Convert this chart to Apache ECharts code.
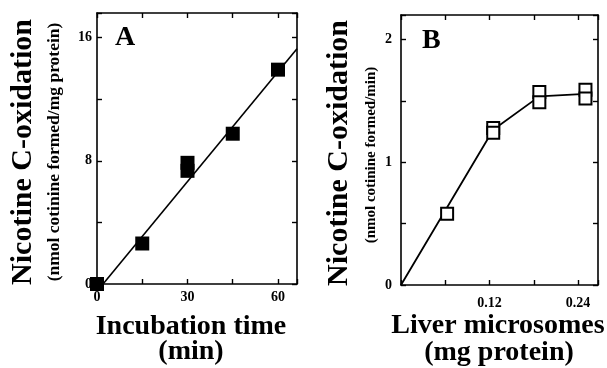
<!DOCTYPE html>
<html>
<head>
<meta charset="utf-8">
<script src="https://cdn.jsdelivr.net/npm/echarts@6/dist/echarts.min.js"></script>
<style>
  html, body { margin: 0; padding: 0; background: #fff; }
  #chart { width: 607px; height: 368px; }
</style>
</head>
<body>
<div id="chart"></div>
<script>
// panel A: incubation time (min) vs nicotine C-oxidation
var timeMin = [0, 15, 30, 30, 45, 60];
var oxidationA = [0, 2.63, 7.87, 7.35, 9.76, 13.92];
var fitTime = [2, 66.3];
var fitA = [0, 15.28];
var labelsAX = [0, 30, 60];
var labelsAY = [0, 8, 16];

// panel B: liver microsomes (mg protein) vs rate
var proteinMg = [0.0625, 0.125, 0.125, 0.1875, 0.1875, 0.25, 0.25];
var oxidationB = [0.58, 1.28, 1.24, 1.573, 1.49, 1.59, 1.52];
var curveProtein = [0, 0.125, 0.1875, 0.25];
var curveB = [0, 1.265, 1.537, 1.557];
var labelsBX = [0.12, 0.24];
var labelsBY = [0, 1, 2];

var FONT = "'Liberation Serif', 'Times New Roman', serif";

function pairs(xs, ys) {
  var out = [];
  for (var i = 0; i < xs.length; i++) out.push([xs[i], ys[i]]);
  return out;
}
function pick(list) {
  return function (v) {
    for (var i = 0; i < list.length; i++) {
      if (Math.abs(v - list[i]) < 1e-6) return String(list[i]);
    }
    return '';
  };
}
function axis(opts) {
  var a = {
    type: 'value',
    gridIndex: opts.grid,
    position: opts.position,
    min: opts.min,
    max: opts.max,
    interval: opts.interval,
    splitLine: { show: false },
    axisLine: { show: true, onZero: false, lineStyle: { color: '#000', width: 1.6 } },
    axisTick: { show: true, inside: true, length: 5, lineStyle: { color: '#000', width: 1.4 } },
    axisLabel: { show: false }
  };
  if (opts.labels) {
    a.axisLabel = {
      show: true,
      margin: opts.margin,
      color: '#000',
      fontFamily: FONT,
      fontWeight: 'bold',
      fontSize: 14,
      showMinLabel: true,
      showMaxLabel: true,
      formatter: pick(opts.labels)
    };
  }
  return a;
}

var chart = echarts.init(document.getElementById('chart'));

var option = {
  animation: false,
  backgroundColor: '#fff',
  grid: [
    { left: 97, right: 310, top: 13, bottom: 84 },
    { left: 401, right: 9, top: 15, bottom: 83 }
  ],
  xAxis: [
    axis({ grid: 0, position: 'bottom', min: 0, max: 66.3, interval: 15, labels: labelsAX, margin: 6 }),
    axis({ grid: 0, position: 'top', min: 0, max: 66.3, interval: 15 }),
    axis({ grid: 1, position: 'bottom', min: 0, max: 0.267, interval: 0.06, labels: labelsBX, margin: 11 }),
    axis({ grid: 1, position: 'top', min: 0, max: 0.267, interval: 0.06 })
  ],
  yAxis: [
    axis({ grid: 0, position: 'left', min: 0, max: 17.6, interval: 4, labels: labelsAY, margin: 5 }),
    axis({ grid: 0, position: 'right', min: 0, max: 17.6, interval: 4 }),
    axis({ grid: 1, position: 'left', min: 0, max: 2.2, interval: 0.5, labels: labelsBY, margin: 9 }),
    axis({ grid: 1, position: 'right', min: 0, max: 2.2, interval: 0.5 })
  ],
  series: [
    {
      type: 'line', xAxisIndex: 0, yAxisIndex: 0,
      data: pairs(fitTime, fitA), showSymbol: false, z: 2,
      lineStyle: { color: '#000', width: 1.6 }
    },
    {
      type: 'scatter', xAxisIndex: 0, yAxisIndex: 0,
      data: pairs(timeMin, oxidationA), symbol: 'rect', symbolSize: 14, z: 3,
      itemStyle: { color: '#000', opacity: 1 }
    },
    {
      type: 'line', xAxisIndex: 2, yAxisIndex: 2,
      data: pairs(curveProtein, curveB), showSymbol: false, z: 2,
      lineStyle: { color: '#000', width: 1.8 }
    },
    {
      type: 'scatter', xAxisIndex: 2, yAxisIndex: 2,
      data: pairs(proteinMg, oxidationB), symbol: 'rect', symbolSize: 12, z: 3,
      itemStyle: { color: '#fff', borderColor: '#000', borderWidth: 2, opacity: 1 }
    }
  ],
  graphic: [
    { type: 'text', x: 23, y: 152, rotation: Math.PI / 2,
      style: { text: 'Nicotine C-oxidation', font: 'bold 30px ' + FONT, fill: '#000', align: 'center', verticalAlign: 'middle' } },
    { type: 'text', x: 54, y: 152, rotation: Math.PI / 2,
      style: { text: '(nmol cotinine formed/mg protein)', font: 'bold 17.5px ' + FONT, fill: '#000', align: 'center', verticalAlign: 'middle' } },
    { type: 'text', x: 115, y: 38,
      style: { text: 'A', font: 'bold 28px ' + FONT, fill: '#000', align: 'left', verticalAlign: 'middle' } },
    { type: 'text', x: 191, y: 327,
      style: { text: 'Incubation time', font: 'bold 28px ' + FONT, fill: '#000', align: 'center', verticalAlign: 'middle' } },
    { type: 'text', x: 191, y: 352,
      style: { text: '(min)', font: 'bold 28px ' + FONT, fill: '#000', align: 'center', verticalAlign: 'middle' } },

    { type: 'text', x: 339, y: 153, rotation: Math.PI / 2,
      style: { text: 'Nicotine C-oxidation', font: 'bold 30px ' + FONT, fill: '#000', align: 'center', verticalAlign: 'middle' } },
    { type: 'text', x: 371, y: 155, rotation: Math.PI / 2,
      style: { text: '(nmol cotinine formed/min)', font: 'bold 15px ' + FONT, fill: '#000', align: 'center', verticalAlign: 'middle' } },
    { type: 'text', x: 422, y: 41,
      style: { text: 'B', font: 'bold 28px ' + FONT, fill: '#000', align: 'left', verticalAlign: 'middle' } },
    { type: 'text', x: 498, y: 326,
      style: { text: 'Liver microsomes', font: 'bold 28px ' + FONT, fill: '#000', align: 'center', verticalAlign: 'middle' } },
    { type: 'text', x: 499, y: 353,
      style: { text: '(mg protein)', font: 'bold 28px ' + FONT, fill: '#000', align: 'center', verticalAlign: 'middle' } }
  ]
};

chart.setOption(option);
</script>
</body>
</html>
